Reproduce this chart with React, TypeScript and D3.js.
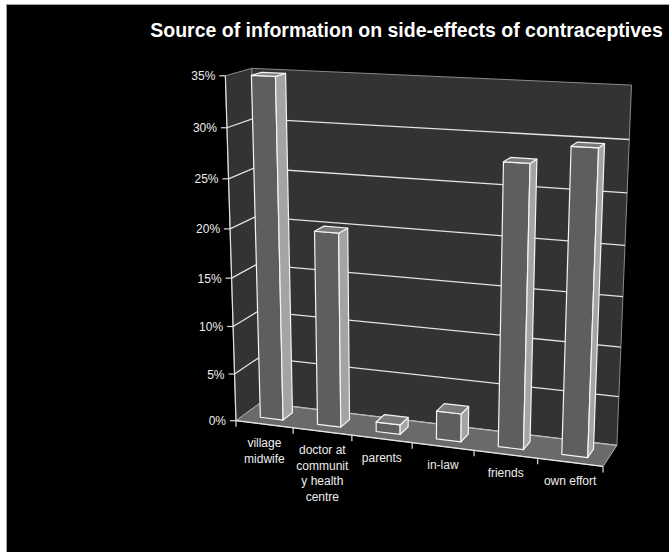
import React from 'react';
import * as d3 from 'd3';

const W = 669;
const H = 552;

const title = 'Source of information on side-effects of contraceptives';
const categories = ['village midwife', 'doctor at community health centre', 'parents', 'in-law', 'friends', 'own effort'];
const categoryLines = [['village', 'midwife'], ['doctor at', 'communit', 'y health', 'centre'], ['parents'], ['in-law'], ['friends'], ['own effort']];
const values = [0.349, 0.2, 0.01, 0.029, 0.28, 0.298];
const yTicks = [0, 0.05, 0.1, 0.15, 0.2, 0.25, 0.3, 0.35];
const yTickLabels = ['0%', '5%', '10%', '15%', '20%', '25%', '30%', '35%'];

// Camera calibration of the 3-D plot box: box coords (X: category axis 0..1,
// Y: value axis 0..1, Z: depth 0 front .. 1 back) -> page pixels.
type P3 = [number, number, number];
type P2 = [number, number];
const calibBox: P3[] = [
  [0, 0, 0], [0, 1, 0], [0, 0, 1], [0, 1, 1], [1, 1, 1], [1, 0, 1], [1, 0, 0],
  [1 / 6, 0, 0], [2 / 6, 0, 0], [0.5, 0, 0], [4 / 6, 0, 0], [5 / 6, 0, 0],
  [0, 1 / 7, 0], [0, 2 / 7, 0], [0, 3 / 7, 0], [0, 4 / 7, 0], [0, 5 / 7, 0], [0, 6 / 7, 0],
  [0, 6 / 7, 1], [1, 6 / 7, 1], [1, 4 / 7, 1], [1, 3 / 7, 1], [1, 2 / 7, 1], [1, 1 / 7, 1],
];
const calibPage: P2[] = [
  [237, 420], [225, 76], [260, 404], [253, 68], [632, 86], [617, 444], [603, 467],
  [293, 428], [352, 437], [412, 442.5], [474, 450.5], [537, 459],
  [235, 373], [233.3, 326], [231.7, 276.7], [230, 229], [228.3, 179], [226.7, 127.7],
  [251.7, 119.3], [629, 139], [625.7, 245], [622.7, 296.7], [621, 347.3], [618.7, 396],
];

function fitProjection(box: P3[], page: P2[]) {
  const cu = 420, cv = 260, s = 200;
  const rows: number[][] = [];
  const rhs: number[] = [];
  box.forEach(([X, Y, Z], k) => {
    const u = (page[k][0] - cu) / s;
    const v = (page[k][1] - cv) / s;
    rows.push([X, Y, Z, 1, 0, 0, 0, 0, -u * X, -u * Y, -u * Z]);
    rhs.push(u);
    rows.push([0, 0, 0, 0, X, Y, Z, 1, -v * X, -v * Y, -v * Z]);
    rhs.push(v);
  });
  const n = 11;
  const M = Array.from({ length: n }, () => new Array(n + 1).fill(0));
  rows.forEach((r, k) => {
    for (let i = 0; i < n; i++) {
      for (let j = 0; j < n; j++) M[i][j] += r[i] * r[j];
      M[i][n] += r[i] * rhs[k];
    }
  });
  for (let c = 0; c < n; c++) {
    let piv = c;
    for (let r = c + 1; r < n; r++) if (Math.abs(M[r][c]) > Math.abs(M[piv][c])) piv = r;
    [M[c], M[piv]] = [M[piv], M[c]];
    for (let r = 0; r < n; r++) {
      if (r === c) continue;
      const f = M[r][c] / M[c][c];
      for (let j = c; j <= n; j++) M[r][j] -= f * M[c][j];
    }
  }
  const p = M.map((row, i) => row[n] / row[i]);
  return (X: number, Y: number, Z: number): P2 => {
    const w = p[8] * X + p[9] * Y + p[10] * Z + 1;
    return [cu + (s * (p[0] * X + p[1] * Y + p[2] * Z + p[3])) / w, cv + (s * (p[4] * X + p[5] * Y + p[6] * Z + p[7])) / w];
  };
}

const project = fitProjection(calibBox, calibPage);

const xBand = d3.scaleBand<string>().domain(categories).range([0, 1]).paddingInner(0.6).paddingOuter(0.3);
const xPos = d3.scaleLinear().domain([0, categories.length]).range([0, 1]);
const yScale = d3.scaleLinear().domain([0, 0.35]).range([0, 1]);
const zBar = d3.scaleLinear().domain([0, 1]).range([0.3, 0.7]);

const line = d3.line<P2>();
const poly = (pts: P3[]) => line(pts.map((q) => project(q[0], q[1], q[2])))! + 'Z';

const FONT = "Arial, 'Liberation Sans', sans-serif";
const WALL = '#343233';
const FLOOR = '#6b6a69';
const GRID = '#e4e4e4';

export default function App() {
  const gridVals = yTicks.filter((t) => t > 0 && t < 0.35);
  return (
    <svg width={W} height={H} style={{ position: 'absolute', left: 0, top: 0, display: 'block' }} fontFamily={FONT}>
      <rect x={0} y={0} width={W} height={H} fill="#ffffff" />
      <rect x={6.5} y={4.5} width={W + 20} height={H + 20} fill="#000000" stroke="#a0a0a0" strokeWidth={1} />
      <text x={406.5} y={37} textAnchor="middle" fill="#ffffff" fontSize={19.5} fontWeight="bold">
        {title}
      </text>

      {/* walls and floor */}
      <path d={poly([[0, 0, 0], [0, 1, 0], [0, 1, 1], [0, 0, 1]])} fill={WALL} stroke="#8a8a8a" strokeWidth={1} />
      <path d={poly([[0, 0, 1], [0, 1, 1], [1, 1, 1], [1, 0, 1]])} fill={WALL} stroke="#8a8a8a" strokeWidth={1} />
      <path d={poly([[0, 0, 0], [1, 0, 0], [1, 0, 1], [0, 0, 1]])} fill={FLOOR} stroke="#b0b0b0" strokeWidth={1} />

      {/* gridlines */}
      {gridVals.map((t) => (
        <path
          key={t}
          d={line([project(0, yScale(t), 0), project(0, yScale(t), 1), project(1, yScale(t), 1)])!}
          fill="none"
          stroke={GRID}
          strokeWidth={1.3}
        />
      ))}
      <path
        d={line([project(0, 0, 1), project(1, 0, 1)])!}
        fill="none"
        stroke="#b8b8b8"
        strokeWidth={1.2}
      />

      {/* bars */}
      {categories.map((c, i) => {
        const x0 = xBand(c)!;
        const x1 = x0 + xBand.bandwidth();
        const z0 = zBar(0);
        const z1 = zBar(1);
        const v = yScale(values[i]);
        return (
          <g key={c} stroke="#f4f4f4" strokeWidth={1.2} strokeLinejoin="round">
            <path d={poly([[x0, 0, z0], [x1, 0, z0], [x1, v, z0], [x0, v, z0]])} fill="#5f5e5c" />
            <path d={poly([[x1, 0, z0], [x1, 0, z1], [x1, v, z1], [x1, v, z0]])} fill="#a5a3a3" />
            <path d={poly([[x0, v, z0], [x1, v, z0], [x1, v, z1], [x0, v, z1]])} fill="#7b7979" />
          </g>
        );
      })}

      {/* value axis */}
      <path d={line([project(0, 0, 0), project(0, 1, 0)])!} stroke="#e0e0e0" strokeWidth={1.2} fill="none" />
      {yTicks.map((t, i) => {
        const [px, py] = project(0, yScale(t), 0);
        return (
          <g key={t}>
            <line x1={px - 6} x2={px} y1={py} y2={py} stroke="#e0e0e0" strokeWidth={1.2} />
            <text x={px - 10} y={py + 4.5} textAnchor="end" fill="#eeeeee" fontSize={12}>
              {yTickLabels[i]}
            </text>
          </g>
        );
      })}

      {/* category axis */}
      <path d={line([project(0, 0, 0), project(1, 0, 0)])!} stroke="#e8e8e8" strokeWidth={1.2} fill="none" />
      {d3.range(categories.length + 1).map((k) => {
        const [px, py] = project(xPos(k), 0, 0);
        return <line key={k} x1={px} x2={px} y1={py} y2={py + 6} stroke="#e0e0e0" strokeWidth={1.2} />;
      })}
      {categoryLines.map((lines, i) => {
        const [px, py] = project(xPos(i + 0.5), 0, 0);
        return (
          <text key={i} textAnchor="middle" fill="#eeeeee" fontSize={12}>
            {lines.map((ln, j) => (
              <tspan key={j} x={px} y={py + 23 + j * 15.5}>
                {ln}
              </tspan>
            ))}
          </text>
        );
      })}
    </svg>
  );
}
